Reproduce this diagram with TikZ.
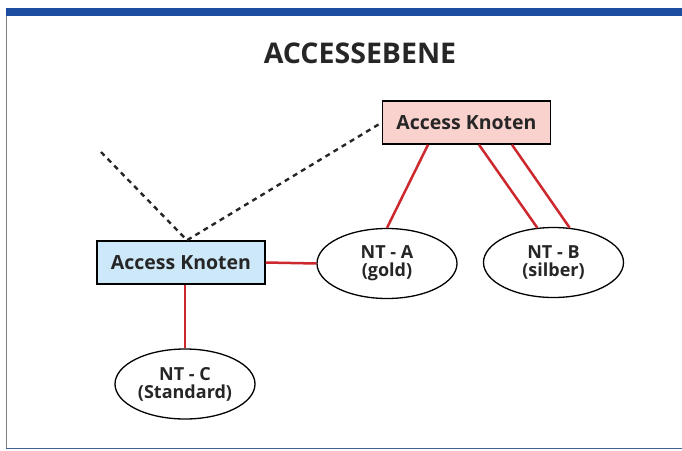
\documentclass[tikz,border=0pt]{standalone}
\usepackage{fontspec}
\setmainfont{Open Sans}
\usepackage{tikz}
\usetikzlibrary{shapes}
\usetikzlibrary{calc}
\definecolor{rahmenblau}{RGB}{28,78,160}
\definecolor{linienrot}{RGB}{205,40,45}
\definecolor{rosa}{RGB}{250,210,205}
\definecolor{hellblau}{RGB}{205,232,248}
\tikzset{knotenBox/.style={draw, line width=1.5pt, minimum width=168pt, minimum height=43pt, font=\fontsize{19.5}{22}\selectfont\bfseries, text=black!85}}
\tikzset{ntEllipse/.style={draw, ellipse, line width=1.3pt, minimum width=140pt, minimum height=70pt, align=center, inner sep=1pt, font=\fontsize{18}{18}\selectfont\bfseries, text=black!85}}
\tikzset{rotLinie/.style={draw=linienrot, line width=2.5pt}}
\tikzset{punktLinie/.style={draw=black!85, line width=2.4pt, dash pattern=on 5pt off 4.5pt}}

\begin{document}
\begin{tikzpicture}[x=1pt, y=-1pt]

\useasboundingbox (0,0) rectangle (682,450);

% rahmen
\fill[rahmenblau] (6,8) rectangle (682,16);
\draw[black!50, line width=1.2pt] (6.5,16) -- (6.5,448);
\draw[rahmenblau!60!gray, line width=1pt] (6,448) -- (682,448);

\node[font=\fontsize{28.5}{30}\selectfont\bfseries, text=black!85] (titel) at (360,53) {ACCESSEBENE};

\node[knotenBox, fill=rosa] (akRot) at (466.5,122.5) {Access Knoten};
\node[knotenBox, fill=hellblau] (akBlau) at (181,262.5) {Access Knoten};

\node[ntEllipse] (ntA) at (387,263.5) {NT - A\\(gold)};
\node[ntEllipse] (ntB) at (553.5,262.5) {NT - B\\(silber)};
\node[ntEllipse] (ntC) at (185,384) {NT - C\\(Standard)};

\coordinate (dashStart) at (101,152);

\draw[rotLinie] ([xshift=-38.5pt]akRot.south) -- (ntA.north);
\draw[rotLinie] ([xshift=12.5pt]akRot.south) -- (ntB.115);
\draw[rotLinie] ([xshift=45.5pt]akRot.south) -- (ntB.65);
\draw[rotLinie] (akBlau.east) -- (ntA.west);
\draw[rotLinie] ([xshift=4pt]akBlau.south) -- (ntC.north);

\draw[punktLinie] (dashStart) -- ([xshift=6pt]akBlau.north) -- (akRot.west);

\end{tikzpicture}
\end{document}
